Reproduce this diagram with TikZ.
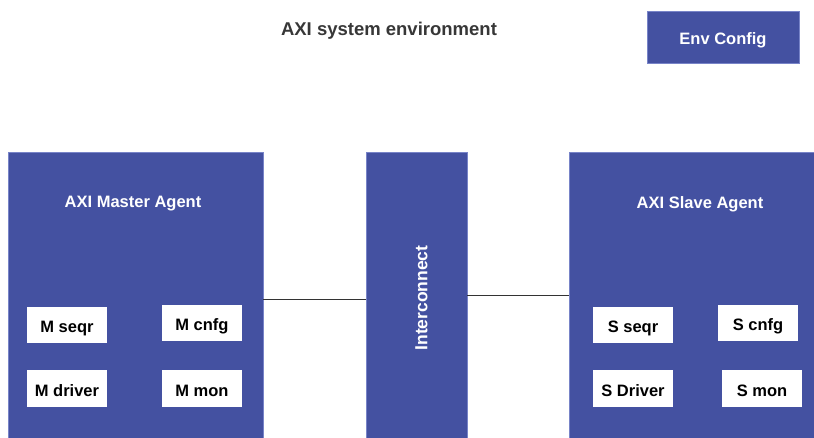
\documentclass[tikz,border=0pt]{standalone}
\usepackage{fontspec}
\setmainfont{Liberation Sans}
\definecolor{axiblue}{RGB}{68,81,161}
\definecolor{axiedge}{RGB}{120,132,200}
\definecolor{titlegray}{RGB}{55,55,55}
\begin{document}
\begin{tikzpicture}[x=1pt,y=-1pt,
  bluebox/.style={draw=axiedge,line width=0.6pt,fill=axiblue,inner sep=0pt,text=white,font=\fontsize{16.5}{18}\selectfont\bfseries},
  unitbox/.style={fill=white,inner sep=0pt,minimum width=80pt,minimum height=36pt,text=black,font=\fontsize{16.5}{18}\selectfont\bfseries,text height=15.5pt,text depth=0pt},
  agentlabel/.style={text=white,inner sep=0pt,font=\fontsize{16.5}{18}\selectfont\bfseries},
  link/.style={draw=black!80,line width=0.8pt}]
\useasboundingbox (0,0) rectangle (814,437);
\fill[white] (0,0) rectangle (814,437);

% title and environment configuration
\node[text=titlegray,font=\fontsize{18.5}{20}\selectfont\bfseries] (title) at (389,30.5) {AXI system environment};
\node[bluebox,minimum width=152pt,minimum height=52pt,text height=14pt,text depth=0pt] (envcfg) at (723,37) {Env Config};

% agents and interconnect
\node[bluebox,minimum width=255pt,minimum height=293pt] (master) at (135.5,298.5) {};
\node[bluebox,minimum width=101pt,minimum height=293pt] (inter) at (416.5,298.5) {};
\node[bluebox,minimum width=255pt,minimum height=293pt] (slave) at (696.5,298.5) {};
\node[agentlabel,rotate=90] (interlabel) at (421.5,298) {\fontsize{17.5}{19}\selectfont Interconnect};
\node[agentlabel] (mlabel) at (133,204) {AXI Master Agent};
\node[agentlabel] (slabel) at (700,204) {AXI Slave Agent};

% master agent components
\node[unitbox] (mseqr) at (67,325) {M seqr};
\node[unitbox] (mcnfg) at (202,323) {M cnfg};
\node[unitbox,minimum height=37pt] (mdrv) at (67,388.5) {M driver};
\node[unitbox,minimum height=37pt] (mmon) at (202,388.5) {M mon};

% slave agent components
\node[unitbox] (sseqr) at (633,325) {S seqr};
\node[unitbox] (scnfg) at (758,323) {S cnfg};
\node[unitbox,minimum height=37pt] (sdrv) at (633,388.5) {S Driver};
\node[unitbox,minimum height=37pt] (smon) at (762,388.5) {S mon};

% connections through the interconnect
\draw[link] (master.east |- 0,299) -- (inter.west |- 0,299);
\draw[link] (inter.east |- 0,295) -- (slave.west |- 0,295);
\end{tikzpicture}
\end{document}
